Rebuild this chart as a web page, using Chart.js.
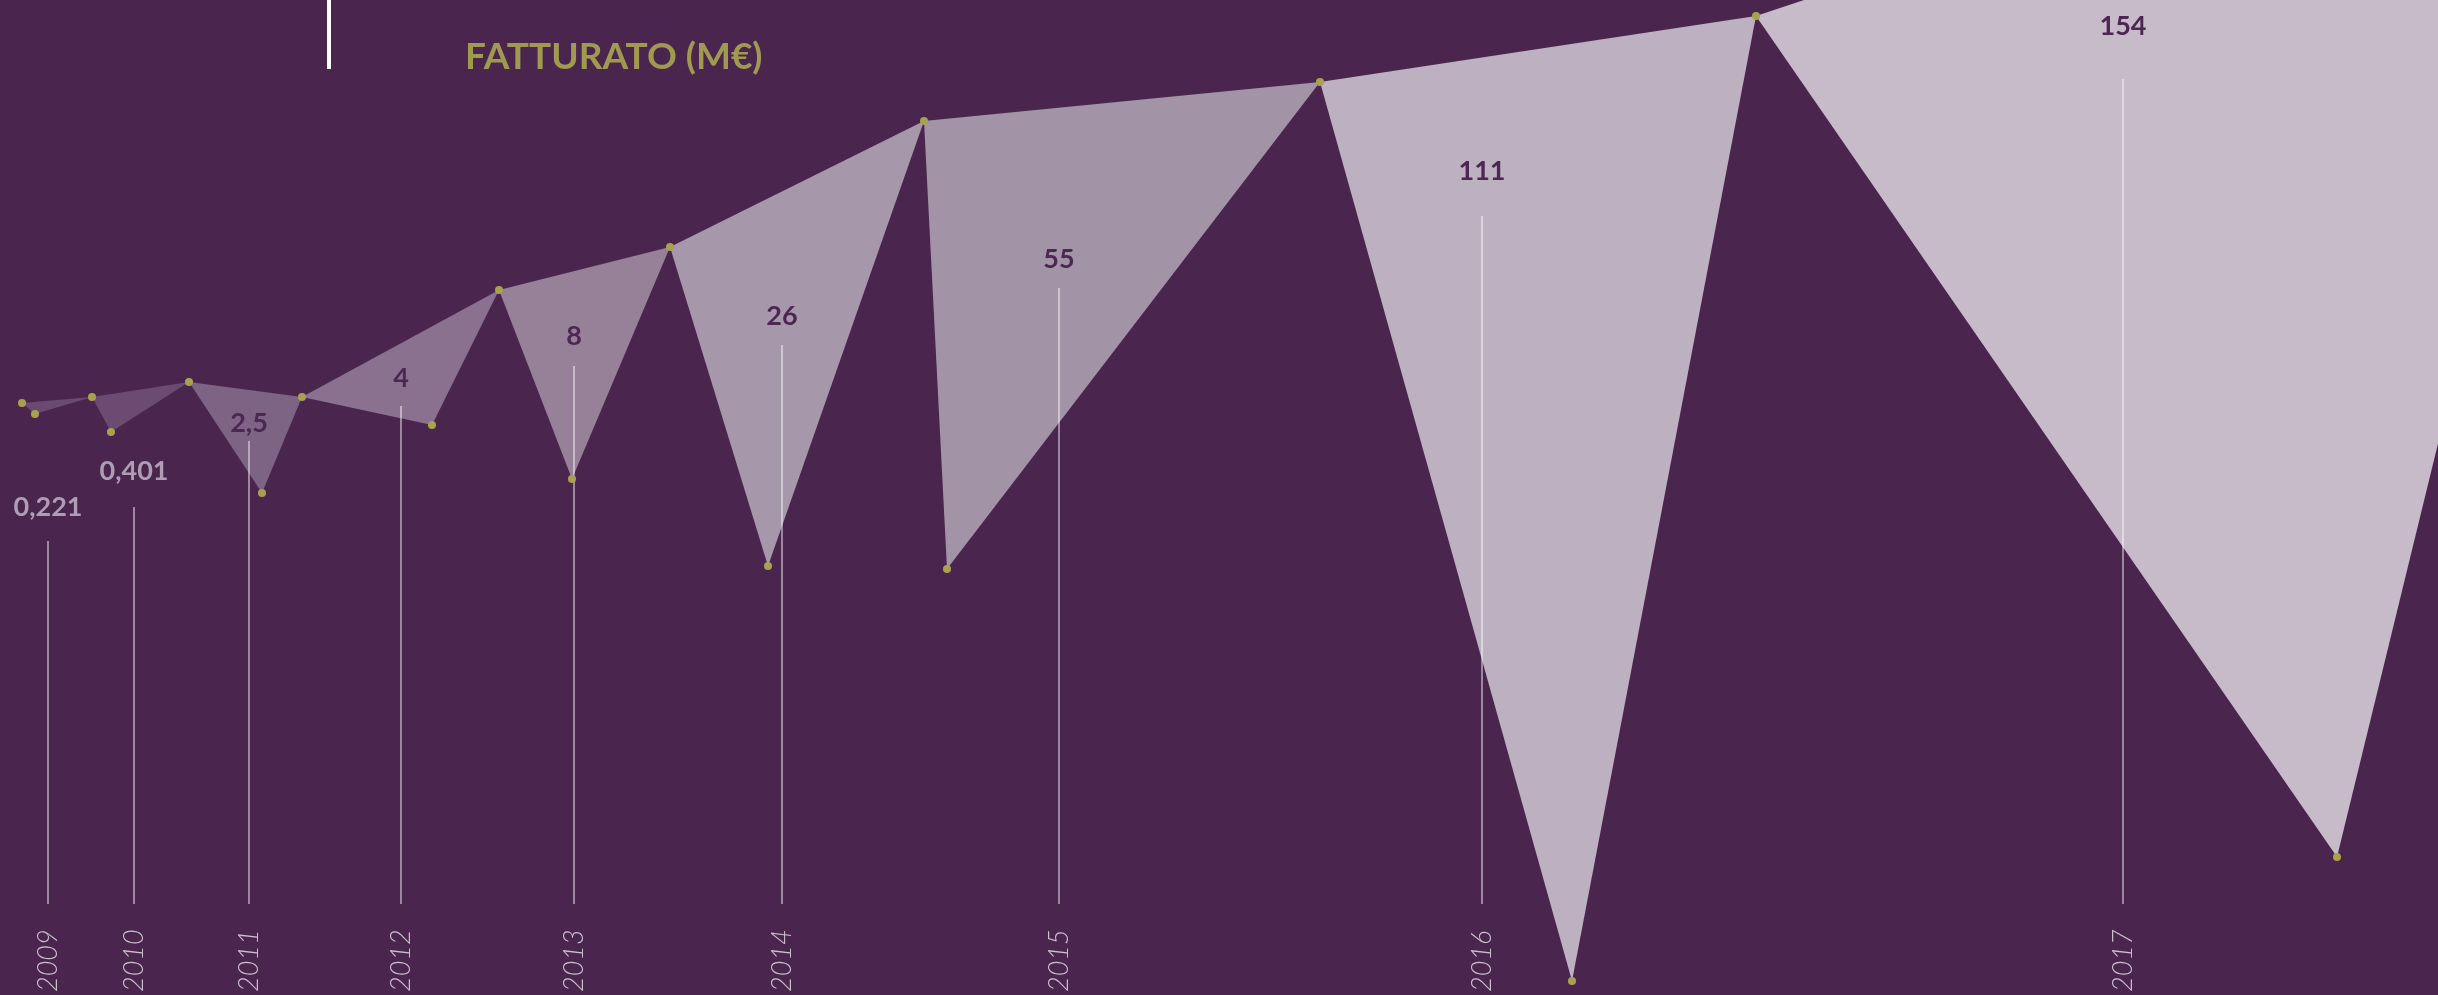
<!DOCTYPE html>
<html>
<head>
<meta charset="utf-8">
<script src="https://cdn.jsdelivr.net/npm/chart.js@4.4.1/dist/chart.umd.min.js"></script>
<style>
  html, body { margin: 0; padding: 0; background: #4a264f; overflow: hidden; }
  #wrap { width: 2438px; height: 995px; position: relative; }
</style>
</head>
<body>
<div id="wrap"><canvas id="chart"></canvas></div>
<script>
// ---- Data ----
const years = ['2009', '2010', '2011', '2012', '2013', '2014', '2015', '2016', '2017'];
const revenueLabels = ['0,221', '0,401', '2,5', '4', '8', '26', '55', '111', '154'];

// ridge: shared upper vertices of the triangles (one more than years)
const ridgeX = [22, 92, 189, 302, 499, 670, 924, 1320, 1756, 2612];
const ridgeY = [403, 397, 382, 397, 290, 247, 121, 82, 16, -269];
// tips: lower vertex of each year's triangle
const tipX = [35, 111, 262, 432, 572, 768, 947, 1572, 2337];
const tipY = [414, 432, 493, 425, 479, 566, 569, 981, 857];
// stems under each value label
const stemX = [48, 134, 249, 401, 574, 782, 1059, 1482, 2123];
const stemTop = [541, 507, 441, 406, 366, 345, 288, 216, 79];
const labelY = [516, 480, 432, 387, 345, 325, 268, 180, 35];
const stemBase = 904;

// Colors
const BG = '#4a264f';
const DOT = '#a8a24f';
const FILLS = ['#6a4a70', '#6b4b71', '#7d6384', '#8a7190', '#968198', '#a797ab', '#a393a6', '#bdb0c0', '#c8bbc9'];

const fillSets = years.map((yr, i) => ({
  label: yr,
  data: [
    { x: ridgeX[i], y: ridgeY[i] },
    { x: tipX[i], y: tipY[i] },
    { x: ridgeX[i + 1], y: ridgeY[i + 1] },
    { x: ridgeX[i], y: ridgeY[i] }
  ],
  fill: 'shape',
  backgroundColor: FILLS[i],
  borderWidth: 0,
  pointRadius: 0,
  tension: 0,
  order: 20 - i
}));

const stemData = [];
stemX.forEach((x, i) => {
  stemData.push({ x, y: stemTop[i] }, { x, y: stemBase }, { x, y: null });
});

const dotData = [
  ...ridgeX.map((x, i) => ({ x, y: ridgeY[i] })),
  ...tipX.map((x, i) => ({ x, y: tipY[i] }))
];

const overlay = {
  id: 'overlay',
  afterDatasetsDraw(chart) {
    const { ctx, scales: { x, y } } = chart;
    ctx.save();

    // title + white marker
    ctx.fillStyle = '#ffffff';
    ctx.fillRect(x.getPixelForValue(327), 0, 4, y.getPixelForValue(69));
    ctx.fillStyle = '#a09a50';
    ctx.font = 'bold 37px Lato';
    ctx.textAlign = 'left';
    ctx.textBaseline = 'alphabetic';
    ctx.fillText('FATTURATO (M\u20AC)', x.getPixelForValue(465), y.getPixelForValue(69));

    // value labels
    ctx.font = 'bold 27px Lato';
    ctx.textAlign = 'center';
    revenueLabels.forEach((t, i) => {
      ctx.fillStyle = i < 2 ? '#ae9db4' : '#4b2752';
      ctx.fillText(t, x.getPixelForValue(stemX[i]), y.getPixelForValue(labelY[i]));
    });

    // year labels, rotated
    ctx.font = 'italic 300 27px Lato';
    ctx.fillStyle = '#cbc1cd';
    ctx.textAlign = 'left';
    ctx.textBaseline = 'middle';
    years.forEach((yr, i) => {
      ctx.save();
      ctx.translate(x.getPixelForValue(stemX[i]), y.getPixelForValue(992));
      ctx.rotate(-Math.PI / 2);
      ctx.fillText(yr, 0, 0);
      ctx.restore();
    });
    ctx.restore();
  }
};

new Chart(document.getElementById('chart'), {
  type: 'line',
  data: {
    datasets: [
      {
        label: 'dots',
        data: dotData,
        showLine: false,
        pointRadius: 4,
        pointBackgroundColor: DOT,
        pointBorderWidth: 0,
        order: 0
      },
      {
        label: 'stems',
        data: stemData,
        borderColor: 'rgba(255,255,255,0.6)',
        borderWidth: 1.5,
        pointRadius: 0,
        spanGaps: false,
        fill: false,
        order: 1
      },
      ...fillSets
    ]
  },
  options: {
    responsive: true,
    maintainAspectRatio: false,
    animation: false,
    events: [],
    layout: { padding: 0, autoPadding: false },
    plugins: { legend: { display: false }, tooltip: { enabled: false } },
    scales: {
      x: { type: 'linear', min: 0, max: 2438, display: false },
      y: { type: 'linear', min: 0, max: 995, reverse: true, display: false }
    }
  },
  plugins: [overlay]
});
</script>
</body>
</html>
